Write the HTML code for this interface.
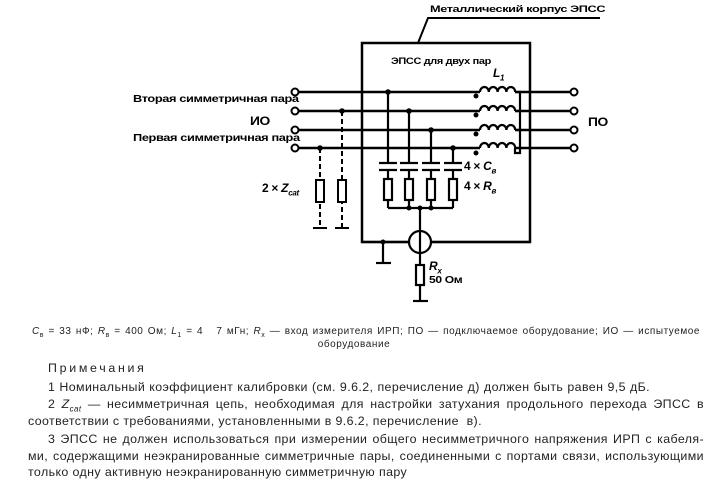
<!DOCTYPE html>
<html><head><meta charset="utf-8"><style>
body{margin:0;background:#fff;width:708px;height:480px;overflow:hidden;position:relative;font-family:"Liberation Sans",sans-serif;color:#000}
.t{position:absolute;white-space:nowrap}
.b{font-weight:bold;font-size:10px;letter-spacing:-0.3px;transform-origin:0 0}
.p{font-size:12.4px;position:absolute;white-space:nowrap;color:#222;letter-spacing:0.4px}
.j{position:absolute;font-size:12.4px;color:#222;text-align:justify;text-align-last:justify;white-space:normal;letter-spacing:0.4px}
</style></head><body>
<svg width="708" height="320" style="position:absolute;left:0;top:0" stroke="#000" fill="none" stroke-width="2.5">
<rect x="362" y="43" width="168" height="199"/>
<polyline points="418,43 428,18 600,18" stroke-width="2"/>
<g stroke-width="2.5">
<line x1="299" y1="92" x2="480" y2="92"/><line x1="515" y1="92" x2="570" y2="92"/>
<line x1="299" y1="111" x2="480" y2="111"/><line x1="515" y1="111" x2="570" y2="111"/>
<line x1="299" y1="130" x2="480" y2="130"/><line x1="515" y1="130" x2="570" y2="130"/>
<line x1="299" y1="148" x2="480" y2="148"/><line x1="515" y1="148" x2="570" y2="148"/>
</g>
<g stroke-width="2">
<circle cx="295" cy="92" r="3.5"/><circle cx="295" cy="111" r="3.5"/><circle cx="295" cy="130" r="3.5"/><circle cx="295" cy="148" r="3.5"/>
<circle cx="574" cy="92" r="3.5"/><circle cx="574" cy="111" r="3.5"/><circle cx="574" cy="130" r="3.5"/><circle cx="574" cy="148" r="3.5"/>
</g>
<g stroke-width="2.2">
<path d="M480,92 a4.4,5 0 0 1 8.8,0 a4.4,5 0 0 1 8.8,0 a4.4,5 0 0 1 8.8,0 a4.4,5 0 0 1 8.8,0"/>
<path d="M480,111 a4.4,5 0 0 1 8.8,0 a4.4,5 0 0 1 8.8,0 a4.4,5 0 0 1 8.8,0 a4.4,5 0 0 1 8.8,0"/>
<path d="M480,130 a4.4,5 0 0 1 8.8,0 a4.4,5 0 0 1 8.8,0 a4.4,5 0 0 1 8.8,0 a4.4,5 0 0 1 8.8,0"/>
<path d="M480,148 a4.4,5 0 0 1 8.8,0 a4.4,5 0 0 1 8.8,0 a4.4,5 0 0 1 8.8,0 a4.4,5 0 0 1 8.8,0"/>
<polyline points="515,92 520,92 520,153 515,153 515,148"/>
<line x1="515" y1="111" x2="520" y2="111"/><line x1="515" y1="130" x2="520" y2="130"/>
</g>
<g fill="#000" stroke="none">
<circle cx="476" cy="96" r="2.5"/><circle cx="476" cy="115" r="2.5"/><circle cx="476" cy="134" r="2.5"/><circle cx="476" cy="153" r="2.5"/>
<circle cx="388" cy="92" r="2.8"/><circle cx="409" cy="111" r="2.8"/><circle cx="431" cy="130" r="2.8"/><circle cx="453" cy="148" r="2.8"/>
<circle cx="320" cy="148" r="2.8"/><circle cx="342" cy="111" r="2.8"/>
<circle cx="409" cy="208" r="2.5"/><circle cx="420" cy="208" r="2.5"/><circle cx="431" cy="208" r="2.5"/><circle cx="383" cy="242" r="2.5"/>
</g>
<g stroke-width="2.2">
<line x1="388" y1="92" x2="388" y2="163"/><line x1="409" y1="111" x2="409" y2="163"/><line x1="431" y1="130" x2="431" y2="163"/><line x1="453" y1="148" x2="453" y2="163"/>
<line x1="379" y1="163" x2="397" y2="163"/><line x1="379" y1="170" x2="397" y2="170"/>
<line x1="400" y1="163" x2="418" y2="163"/><line x1="400" y1="170" x2="418" y2="170"/>
<line x1="422" y1="163" x2="440" y2="163"/><line x1="422" y1="170" x2="440" y2="170"/>
<line x1="444" y1="163" x2="462" y2="163"/><line x1="444" y1="170" x2="462" y2="170"/>
<line x1="388" y1="170" x2="388" y2="208"/><line x1="409" y1="170" x2="409" y2="208"/><line x1="431" y1="170" x2="431" y2="208"/><line x1="453" y1="170" x2="453" y2="208"/>
<line x1="388" y1="208" x2="453" y2="208"/>
<line x1="420" y1="208" x2="420" y2="301"/>
<line x1="362" y1="242" x2="530" y2="242"/>
<line x1="383" y1="242" x2="383" y2="263"/><line x1="376" y1="263" x2="391" y2="263"/>
<line x1="413" y1="301" x2="428" y2="301"/>
</g>
<g fill="#fff" stroke-width="2.2">
<rect x="384" y="179" width="8" height="21"/><rect x="405" y="179" width="8" height="21"/><rect x="427" y="179" width="8" height="21"/><rect x="449" y="179" width="8" height="21"/>
<circle cx="420" cy="242" r="11"/>
<rect x="416" y="265" width="8" height="20"/>
</g>
<line x1="420" y1="231" x2="420" y2="253" stroke-width="2.2"/>
<g stroke-width="2" stroke-dasharray="5,3">
<line x1="320" y1="148" x2="320" y2="228"/><line x1="342" y1="111" x2="342" y2="228"/>
</g>
<g stroke-width="2">
<rect x="316" y="180" width="8" height="22" fill="#fff"/><rect x="338" y="180" width="8" height="22" fill="#fff"/>
<line x1="313" y1="228" x2="327" y2="228"/><line x1="335" y1="228" x2="349" y2="228"/>
</g>
</svg>
<div class="t b" style="left:430px;top:4px;font-size:9.5px;transform:scaleX(1.34)">Металлический корпус ЭПСС</div>
<div class="t b" style="left:391px;top:56px;font-size:9.5px;transform:scaleX(1.15)">ЭПСС для двух пар</div>
<div class="t b" style="left:493px;top:66px;font-style:italic;font-size:12px">L<sub style="font-size:8px">1</sub></div>
<div class="t b" style="left:133px;top:94px;transform:scaleX(1.28)">Вторая симметричная пара</div>
<div class="t b" style="left:250px;top:116px;font-size:11.5px;transform:scaleX(1.2)">ИО</div>
<div class="t b" style="left:133px;top:133px;transform:scaleX(1.28)">Первая симметричная пара</div>
<div class="t b" style="left:588px;top:117px;font-size:11.5px;transform:scaleX(1.2)">ПО</div>
<div class="t b" style="left:262px;top:181px;font-size:12px">2 × <i>Z<sub style="font-size:8px">cat</sub></i></div>
<div class="t b" style="left:464px;top:159px;font-size:12px">4 × <i>C<sub style="font-size:8px">в</sub></i></div>
<div class="t b" style="left:464px;top:179px;font-size:12px">4 × <i>R<sub style="font-size:8px">в</sub></i></div>
<div class="t b" style="left:429px;top:259px;font-size:12px"><i>R<sub style="font-size:8px">x</sub></i></div>
<div class="t b" style="left:429px;top:274px;font-size:10.5px;transform:scaleX(1.15)">50 Ом</div>
<div class="j" style="left:32px;width:668px;top:325px;font-size:10px;line-height:13px;letter-spacing:0.55px"><i>C</i><sub style="font-size:7px">в</sub> = 33 нФ; <i>R</i><sub style="font-size:7px">в</sub> = 400 Ом; <i>L</i><sub style="font-size:7px">1</sub> = 4 &nbsp; 7 мГн; <i>R</i><sub style="font-size:7px">x</sub> — вход измерителя ИРП; ПО — подключаемое оборудование; ИО — испытуемое</div>
<div class="t" style="left:0;width:708px;text-align:center;top:339px;font-size:10px;color:#222;letter-spacing:0.55px">оборудование</div>
<div class="p" style="left:48px;top:361px;letter-spacing:2.7px">Примечания</div>
<div class="j" style="left:48px;width:602px;top:380px">1 Номинальный коэффициент калибровки (см. 9.6.2, перечисление д) должен быть равен 9,5 дБ.</div>
<div class="j" style="left:48px;width:656px;top:397px">2 <i>Z<sub style="font-size:8px">cat</sub></i> — несимметричная цепь, необходимая для настройки затухания продольного перехода ЭПСС в</div>
<div class="p" style="left:28px;top:414px">соответствии с требованиями, установленными в 9.6.2, перечисление &nbsp;в).</div>
<div class="j" style="left:48px;width:656px;top:432px">3 ЭПСС не должен использоваться при измерении общего несимметричного напряжения ИРП с кабеля-</div>
<div class="j" style="left:28px;width:676px;top:449px">ми, содержащими неэкранированные симметричные пары, соединенными с портами связи, использующими</div>
<div class="p" style="left:28px;top:465px">только одну активную неэкранированную симметричную пару</div>
</body></html>
